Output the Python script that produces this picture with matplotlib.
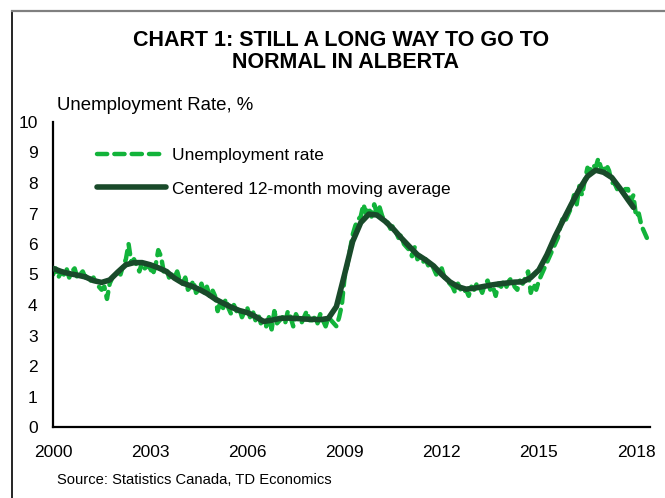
import numpy as np
import matplotlib
matplotlib.use("Agg")
import matplotlib.pyplot as plt
from matplotlib.lines import Line2D

plt.rcParams['font.family'] = ['Liberation Sans', 'DejaVu Sans']

# Monthly unemployment rate, Alberta (%), Jan 2000 - May 2018
rate_2000 = [5.0, 5.2, 4.9, 5.1, 5.0, 5.2, 4.9, 5.1, 5.2, 4.9, 5.0, 5.1]
rate_2001 = [4.9, 5.0, 4.8, 4.9, 4.7, 4.6, 4.5, 4.6, 4.2, 4.7, 4.9, 5.0]
rate_2002 = [5.1, 5.0, 5.3, 5.5, 6.0, 5.4, 5.5, 5.3, 5.1, 5.4, 5.2, 5.3]
rate_2003 = [5.2, 5.0, 5.3, 5.8, 5.6, 5.1, 5.2, 4.9, 5.0, 4.9, 5.1, 4.8]
rate_2004 = [4.7, 4.9, 4.5, 4.6, 4.8, 4.4, 4.5, 4.7, 4.4, 4.6, 4.3, 4.5]
rate_2005 = [4.3, 3.8, 4.1, 3.9, 4.2, 3.9, 3.7, 4.0, 3.8, 3.9, 3.6, 3.8]
rate_2006 = [3.9, 3.6, 3.8, 3.5, 3.7, 3.4, 3.5, 3.3, 3.6, 3.2, 3.8, 3.4]
rate_2007 = [3.5, 3.6, 3.4, 3.8, 3.6, 3.3, 3.7, 3.5, 3.4, 3.6, 3.8, 3.5]
rate_2008 = [3.5, 3.6, 3.4, 3.7, 3.5, 3.3, 3.6, 3.5, 3.4, 3.3, 3.6, 4.0]
rate_2009 = [4.9, 5.3, 5.8, 6.3, 6.6, 6.8, 6.9, 7.3, 7.0, 7.2, 6.9, 7.3]
rate_2010 = [7.0, 7.2, 6.9, 6.8, 6.7, 6.5, 6.6, 6.4, 6.2, 6.3, 6.0, 5.9]
rate_2011 = [5.8, 5.6, 5.9, 5.5, 5.6, 5.4, 5.5, 5.3, 5.4, 5.2, 5.0, 5.1]
rate_2012 = [5.2, 4.9, 4.8, 4.7, 4.6, 4.4, 4.7, 4.5, 4.4, 4.5, 4.3, 4.6]
rate_2013 = [4.5, 4.7, 4.6, 4.4, 4.7, 4.8, 4.5, 4.6, 4.3, 4.7, 4.6, 4.8]
rate_2014 = [4.6, 4.8, 4.9, 4.6, 4.5, 4.8, 4.7, 4.9, 5.1, 4.4, 4.7, 4.5]
rate_2015 = [4.8, 5.0, 5.2, 5.4, 5.6, 5.8, 6.0, 6.2, 6.6, 6.9, 6.8, 7.0]
rate_2016 = [7.2, 7.6, 7.3, 7.9, 7.6, 8.1, 8.5, 8.4, 8.6, 8.5, 8.8, 8.5]
rate_2017 = [8.4, 8.6, 8.4, 8.0, 8.0, 7.8, 7.9, 7.7, 7.8, 7.8, 7.4, 7.6]
rate_2018 = [6.9, 7.0, 6.6, 6.4, 6.2]

# Centered 12-month moving average (%), quarterly readings
ma_time = [2000.00, 2000.25, 2000.50, 2000.75, 2001.00, 2001.25, 2001.50, 2001.75,
           2002.00, 2002.25, 2002.50, 2002.75, 2003.00, 2003.25, 2003.50, 2003.75,
           2004.00, 2004.25, 2004.50, 2004.75, 2005.00, 2005.25, 2005.50, 2005.75,
           2006.00, 2006.25, 2006.50, 2006.75, 2007.00, 2007.25, 2007.50, 2007.75,
           2008.00, 2008.25, 2008.50, 2008.75, 2009.00, 2009.25, 2009.50, 2009.75,
           2010.00, 2010.25, 2010.50, 2010.75, 2011.00, 2011.25, 2011.50, 2011.75,
           2012.00, 2012.25, 2012.50, 2012.75, 2013.00, 2013.25, 2013.50, 2013.75,
           2014.00, 2014.25, 2014.50, 2014.75, 2015.00, 2015.25, 2015.50, 2015.75,
           2016.00, 2016.25, 2016.50, 2016.75, 2017.00, 2017.25, 2017.50, 2017.75,
           2017.92]
ma_value = [5.20, 5.10, 5.03, 4.98, 4.92, 4.80, 4.74, 4.82,
            5.08, 5.32, 5.39, 5.39, 5.32, 5.22, 5.10, 4.88,
            4.72, 4.63, 4.52, 4.38, 4.20, 4.06, 3.93, 3.82,
            3.75, 3.62, 3.46, 3.50, 3.56, 3.57, 3.56, 3.54,
            3.53, 3.52, 3.56, 3.95, 5.00, 6.08, 6.70, 6.98,
            6.95, 6.75, 6.50, 6.20, 5.92, 5.65, 5.48, 5.28,
            5.00, 4.76, 4.60, 4.52, 4.55, 4.60, 4.65, 4.69,
            4.72, 4.75, 4.76, 4.90, 5.15, 5.65, 6.25, 6.78,
            7.30, 7.80, 8.22, 8.42, 8.35, 8.18, 7.83, 7.45,
            7.20]

year_ticks = [2000, 2003, 2006, 2009, 2012, 2015, 2018]
y_ticks = list(range(0, 11))

title_lines = ["CHART 1: STILL A LONG WAY TO GO TO", "NORMAL IN ALBERTA"]
y_label = "Unemployment Rate, %"
source = "Source: Statistics Canada, TD Economics"
label_rate = "Unemployment rate"
label_ma = "Centered 12-month moving average"

GREEN = "#12B33A"
DARK = "#194A2A"

rate = np.array(rate_2000 + rate_2001 + rate_2002 + rate_2003 + rate_2004 + rate_2005 +
                rate_2006 + rate_2007 + rate_2008 + rate_2009 + rate_2010 + rate_2011 +
                rate_2012 + rate_2013 + rate_2014 + rate_2015 + rate_2016 + rate_2017 +
                rate_2018)
months = 2000 + np.arange(len(rate)) / 12.0

W, H = 665, 498
fig = plt.figure(figsize=(W / 100, H / 100), dpi=100)


def fx(x):
    return x / W


def fy(y):
    return 1 - y / H


ax = fig.add_axes([fx(53), fy(427), fx(650) - fx(53), fy(122) - fy(427)])

ln_rate, = ax.plot(months, rate, color=GREEN, lw=3.2, dashes=(2.3, 1.6),
                   dash_capstyle='round', solid_capstyle='round', zorder=2)
ln_ma, = ax.plot(ma_time, ma_value, color=DARK, lw=4.0,
                 solid_capstyle='round', solid_joinstyle='round', zorder=3)

ax.set_xlim(2000, 2018.43)
ax.set_ylim(0, 10)
ax.set_xticks(year_ticks)
ax.set_xticklabels([str(y) for y in year_ticks])
ax.set_yticks(y_ticks)
ax.tick_params(axis='both', length=0, labelsize=12.5, colors='black')
ax.tick_params(axis='y', pad=11)
ax.tick_params(axis='x', pad=13)
for s in ['top', 'right']:
    ax.spines[s].set_visible(False)
for s in ['left', 'bottom']:
    ax.spines[s].set_linewidth(1.6)
    ax.spines[s].set_color('black')

leg = ax.legend([ln_rate, ln_ma], [label_rate, label_ma], loc='upper left',
                bbox_to_anchor=(fx(97), fy(148)), bbox_transform=fig.transFigure,
                frameon=False, fontsize=12.5, handlelength=4.0, handletextpad=0.3,
                labelspacing=1.05, borderpad=0, borderaxespad=0)

fig.text(fx(341), fy(40), title_lines[0], ha='center', va='center', fontsize=15.5,
         fontweight='bold')
fig.text(fx(345), fy(63), title_lines[1], ha='center', va='center', fontsize=15.5,
         fontweight='bold')
fig.text(fx(57), fy(105), y_label, ha='left', va='center', fontsize=13.4)
fig.text(fx(57), fy(480), source, ha='left', va='center', fontsize=10.6)

# outer frame
fig.add_artist(Line2D([fx(12), fx(12)], [fy(11), 0], color='black', lw=1.2,
                      transform=fig.transFigure))
fig.add_artist(Line2D([fx(12), 1], [fy(11), fy(11)], color='#808080', lw=1.6,
                      transform=fig.transFigure))

fig.savefig("out.png", dpi=100)
